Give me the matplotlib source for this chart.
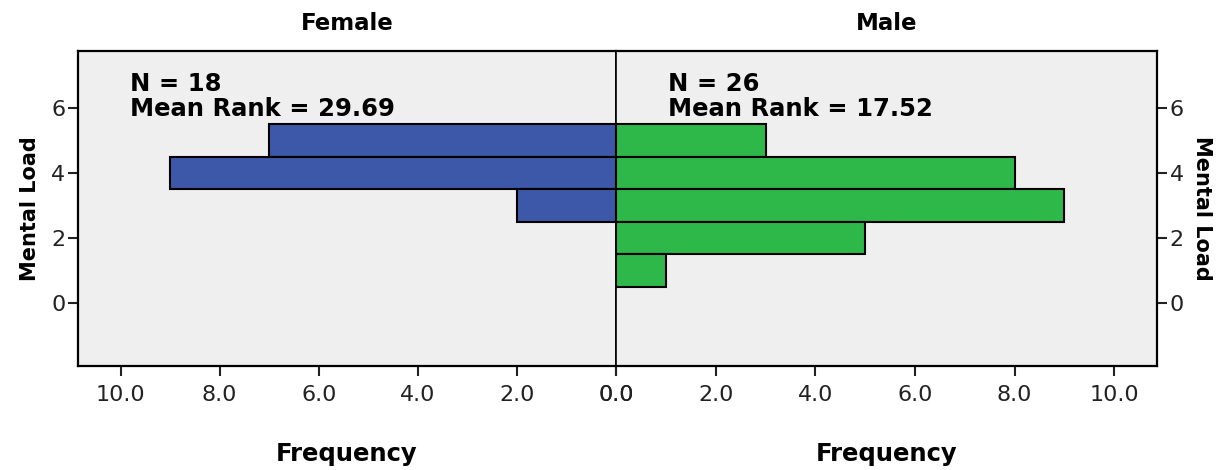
import matplotlib
matplotlib.use("Agg")
import matplotlib.pyplot as plt

# Data
load_levels_female = [5, 4, 3]
female_freq = [7, 9, 2]
load_levels_male = [5, 4, 3, 2, 1]
male_freq = [3, 8, 9, 5, 1]
xticks = [0, 2, 4, 6, 8, 10]
xticklabels = ["0.0", "2.0", "4.0", "6.0", "8.0", "10.0"]
yticks = [0, 2, 4, 6]
female_text = "N = 18\nMean Rank = 29.69"
male_text = "N = 26\nMean Rank = 17.52"

BLUE = "#3D57A9"
GREEN = "#2FB84A"
BG = "#EFEFEF"
FONT = ["DejaVu Sans"]

fig = plt.figure(figsize=(12.2, 4.7), dpi=100)
axL = fig.add_axes([0.0639, 0.2213, 0.441, 0.670])
axR = fig.add_axes([0.505, 0.2213, 0.4434, 0.670])

for ax in (axL, axR):
    ax.set_facecolor(BG)
    ax.set_xlim(0, 10.86)
    ax.set_ylim(-1.94, 7.75)
    ax.set_xticks(xticks)
    ax.set_xticklabels(xticklabels, family=FONT)
    ax.set_yticks(yticks)
    ax.tick_params(axis="both", length=7, width=1.5, labelsize=16, colors="#222222")
    ax.tick_params(axis="x", pad=7)
    ax.tick_params(axis="y", pad=2)
    for s in ax.spines.values():
        s.set_linewidth(1.6)
    ax.set_xlabel("Frequency", fontsize=17.5, fontweight="bold", labelpad=26, family=FONT)

axL.barh(load_levels_female, female_freq, height=1.0, color=BLUE, edgecolor="black", linewidth=1.5)
axR.barh(load_levels_male, male_freq, height=1.0, color=GREEN, edgecolor="black", linewidth=1.5)

axL.invert_xaxis()
axL.set_ylabel("Mental Load", fontsize=15, fontweight="bold", labelpad=8, family=FONT)
axR.yaxis.tick_right()
axR.yaxis.set_label_position("right")
axR.set_ylabel("Mental Load", fontsize=15, fontweight="bold", rotation=270, labelpad=20, family=FONT)
axL.spines["right"].set_linewidth(1.2)
axR.spines["left"].set_linewidth(1.2)
axL.tick_params(axis="y", left=True, right=False)
axR.tick_params(axis="y", left=False, right=True)

axL.set_title("Female", fontsize=16.5, fontweight="bold", pad=15, family=FONT)
axR.set_title("Male", fontsize=16.5, fontweight="bold", pad=15, family=FONT)

axL.text(0.097, 0.935, female_text, transform=axL.transAxes, ha="left", va="top",
         fontsize=17.5, fontweight="bold", linespacing=1.1, family=FONT)
axR.text(0.096, 0.935, male_text, transform=axR.transAxes, ha="left", va="top",
         fontsize=17.5, fontweight="bold", linespacing=1.1, family=FONT)

fig.savefig("out.png", dpi=100, facecolor="white")
